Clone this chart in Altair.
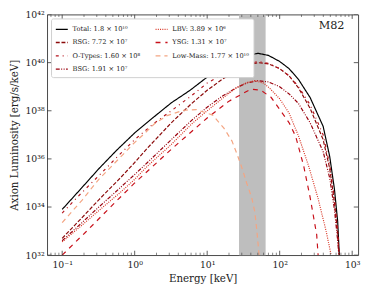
import altair as alt
import pandas as pd

# ---- data (energy in keV, log10 luminosity in erg/s/keV) ----
E_total = [0.1, 0.18, 0.32, 0.56, 1.0, 1.8, 3.2, 5.8, 10, 16, 28, 50, 70, 100, 135, 182, 263, 398, 490, 569, 631, 665]
L_total = [33.9, 34.75, 35.59, 36.35, 37.08, 37.72, 38.33, 38.85, 39.4, 39.8, 40.2, 40.39, 40.3, 40.05, 39.75, 39.3, 38.55, 37.35, 36.1, 34.75, 33.4, 32.0]

E_rsg = [0.1, 0.18, 0.32, 0.63, 1.0, 1.5, 3.2, 6.1, 10, 16, 25, 35, 50, 70, 100, 135, 182, 263, 398, 490, 569, 631, 660]
L_rsg = [32.7, 33.5, 34.3, 35.2, 35.85, 36.45, 37.5, 38.3, 38.85, 39.3, 39.65, 39.88, 40.0, 39.95, 39.75, 39.45, 38.95, 38.1, 36.8, 35.6, 34.2, 32.9, 32.0]

E_otype = [0.1, 0.18, 0.32, 0.56, 1.0, 1.8, 3.2, 6.1, 10, 16, 28, 50, 70, 100, 135, 182, 263, 398, 490, 569, 631, 660]
L_otype = [33.75, 34.55, 35.3, 36.05, 36.8, 37.45, 38.0, 38.63, 39.15, 39.5, 39.85, 40.05, 39.97, 39.75, 39.45, 39.0, 38.25, 37.0, 35.75, 34.4, 33.05, 32.0]

E_bsg = [0.1, 0.18, 0.32, 0.63, 1.0, 1.5, 3.2, 6.1, 10, 16, 25, 35, 50, 70, 100, 135, 182, 263, 398, 490, 569, 631, 655]
L_bsg = [32.6, 33.3, 34.0, 34.8, 35.35, 35.85, 36.8, 37.6, 38.15, 38.6, 38.95, 39.15, 39.25, 39.2, 39.0, 38.7, 38.3, 37.5, 36.3, 35.2, 33.9, 32.6, 32.0]

E_lbv = [0.1, 0.18, 0.32, 0.63, 1.0, 1.5, 3.2, 6.1, 10, 16, 25, 35, 45, 60, 72, 100, 135, 182, 251, 339, 437, 513]
L_lbv = [32.55, 33.2, 33.85, 34.6, 35.15, 35.7, 36.6, 37.45, 38.0, 38.5, 38.95, 39.17, 39.25, 39.15, 38.95, 38.5, 37.9, 36.95, 35.7, 34.35, 33.0, 32.0]

E_ysg = [0.1, 0.145, 0.21, 0.5, 1.0, 3.2, 10, 20, 40, 55, 76, 115, 135, 166, 214, 263, 324, 339]
L_ysg = [32.0, 32.48, 32.95, 34.1, 35.0, 36.4, 37.7, 38.4, 38.9, 38.85, 38.56, 37.8, 37.5, 36.94, 35.72, 34.4, 32.85, 32.0]

E_low = [0.1, 0.14, 0.19, 0.25, 0.32, 0.7, 0.95, 1.36, 1.86, 2.8, 4.7, 7.1, 11.9, 17, 22, 25.8, 30, 35, 41, 45.4, 48.5, 52]
L_low = [33.35, 33.85, 34.3, 34.75, 35.15, 36.2, 36.62, 37.05, 37.45, 37.8, 38.02, 38.05, 37.82, 37.28, 36.74, 36.2, 35.65, 35.0, 34.4, 33.8, 33.0, 32.0]

labels = ["Total: 1.8 × 10¹⁰", "RSG: 7.72 × 10⁷", "O-Types: 1.60 × 10⁸", "BSG: 1.91 × 10⁷",
          "LBV: 3.89 × 10⁶", "YSG: 1.31 × 10⁷", "Low-Mass: 1.77 × 10¹⁰"]
colors = ["#000000", "#8b0a0a", "#b5121b", "#99000d", "#d7301f", "#c8101a", "#f4a582"]
dashes = [[1, 0], [4, 1.8], [3, 4, 1, 4], [4, 1.5, 1, 1.5, 1, 1.5], [1, 1.3], [5, 5], [5, 4]]

band_lo = [27.5]
band_hi = [64]

x_major = [0.1, 1, 10, 100, 1000]
x_minor = [0.07, 0.08, 0.09, 0.2, 0.3, 0.4, 0.5, 0.6, 0.7, 0.8, 0.9,
           2, 3, 4, 5, 6, 7, 8, 9, 20, 30, 40, 50, 60, 70, 80, 90,
           200, 300, 400, 500, 600, 700, 800, 900]
y_major = [1e32, 1e34, 1e36, 1e38, 1e40, 1e42]

# ---- build table ----
series = [
    (labels[0], E_total, L_total),
    (labels[1], E_rsg, L_rsg),
    (labels[2], E_otype, L_otype),
    (labels[3], E_bsg, L_bsg),
    (labels[4], E_lbv, L_lbv),
    (labels[5], E_ysg, L_ysg),
    (labels[6], E_low, L_low),
]
rows = []
for name, es, ls in series:
    for i, (e, l) in enumerate(zip(es, ls)):
        rows.append({"series": name, "E": e, "L": 10 ** l, "order": i})
df = pd.DataFrame(rows)

W, H = 318, 246
FONT = "DejaVu Serif"

xs = alt.Scale(type="log", domain=[0.062, 1210], nice=False)
ys = alt.Scale(type="log", domain=[1e32, 1e42], nice=False)

x_label_expr = ("datum.value < 0.5 ? '10⁻¹' : datum.value < 5 ? '10⁰' : datum.value < 50 ? '10¹' : "
                "datum.value < 500 ? '10²' : '10³'")
y_label_expr = ("datum.value < 1e33 ? '10³²' : datum.value < 1e35 ? '10³⁴' : datum.value < 1e37 ? '10³⁶' : "
                "datum.value < 1e39 ? '10³⁸' : datum.value < 1e41 ? '10⁴⁰' : '10⁴²'")

xaxis = alt.Axis(values=x_major, labelExpr=x_label_expr, ticks=False, domain=False, grid=False,
                 title="Energy [keV]", labelPadding=5, titlePadding=4, labelFlush=False)
yaxis = alt.Axis(values=y_major, labelExpr=y_label_expr, ticks=False, domain=False, grid=False,
                 title="Axion Luminosity [erg/s/keV]", labelPadding=3, titlePadding=6, labelFlush=False)

X = alt.X("E:Q", scale=xs, axis=xaxis)
Y = alt.Y("L:Q", scale=ys, axis=yaxis)

band = alt.Chart(pd.DataFrame({"E": band_lo, "E2": band_hi})).mark_rect(color="#bebebe").encode(
    x=X, x2="E2:Q", y=alt.value(0), y2=alt.value(H))

leg = alt.Legend(title=None, orient="top-left", columns=2, symbolType="stroke", symbolSize=150,
                 symbolStrokeWidth=1.3, labelFont=FONT, labelFontSize=6.8, labelColor="#222",
                 rowPadding=2.6, columnPadding=12, padding=4, offset=4, labelOffset=4,
                 strokeColor="#d0d0d0", fillColor="white", cornerRadius=2)

lines = alt.Chart(df).mark_line(clip=True, strokeWidth=1.2).encode(
    x=X, y=Y,
    color=alt.Color("series:N", scale=alt.Scale(domain=labels, range=colors), legend=leg),
    strokeDash=alt.StrokeDash("series:N", scale=alt.Scale(domain=labels, range=dashes), legend=leg),
    order="order:Q",
)

tick_color = "#333333"
xmaj = pd.DataFrame({"E": x_major})
xmin = pd.DataFrame({"E": x_minor})
ymaj = pd.DataFrame({"L": y_major})

xt = alt.layer(
    alt.Chart(xmaj).mark_rule(color=tick_color, strokeWidth=0.8, clip=True).encode(x=X, y=alt.value(H), y2=alt.value(H - 4.5)),
    alt.Chart(xmin).mark_rule(color=tick_color, strokeWidth=0.6, clip=True).encode(x=X, y=alt.value(H), y2=alt.value(H - 2.5)),
    alt.Chart(xmaj).mark_rule(color=tick_color, strokeWidth=0.8, clip=True).encode(x=X, y=alt.value(0), y2=alt.value(4.5)),
    alt.Chart(xmin).mark_rule(color=tick_color, strokeWidth=0.6, clip=True).encode(x=X, y=alt.value(0), y2=alt.value(2.5)),
    alt.Chart(ymaj).mark_rule(color=tick_color, strokeWidth=0.8, clip=True).encode(y=Y, x=alt.value(0), x2=alt.value(4.5)),
    alt.Chart(ymaj).mark_rule(color=tick_color, strokeWidth=0.8, clip=True).encode(y=Y, x=alt.value(W), x2=alt.value(W - 4.5)),
)

m82 = alt.Chart(pd.DataFrame({"t": ["M82"]})).mark_text(
    font=FONT, fontSize=11.5, align="right", baseline="middle", color="#222").encode(
    text="t:N", x=alt.value(W - 14), y=alt.value(12))

chart = alt.layer(band, lines, xt, m82).properties(
    width=W, height=H,
    autosize=alt.AutoSizeParams(type="none"),
    padding={"left": 40, "top": 3.5, "right": 8, "bottom": 34},
).configure_view(stroke="#333333", strokeWidth=0.9).configure_axis(
    labelFont=FONT, labelFontSize=9.5, labelColor="#222", titleFont=FONT, titleFontSize=10.5,
    titleFontWeight="normal", titleColor="#222"
)

chart.save("out.html", embed_options={"renderer": "svg", "actions": False})
